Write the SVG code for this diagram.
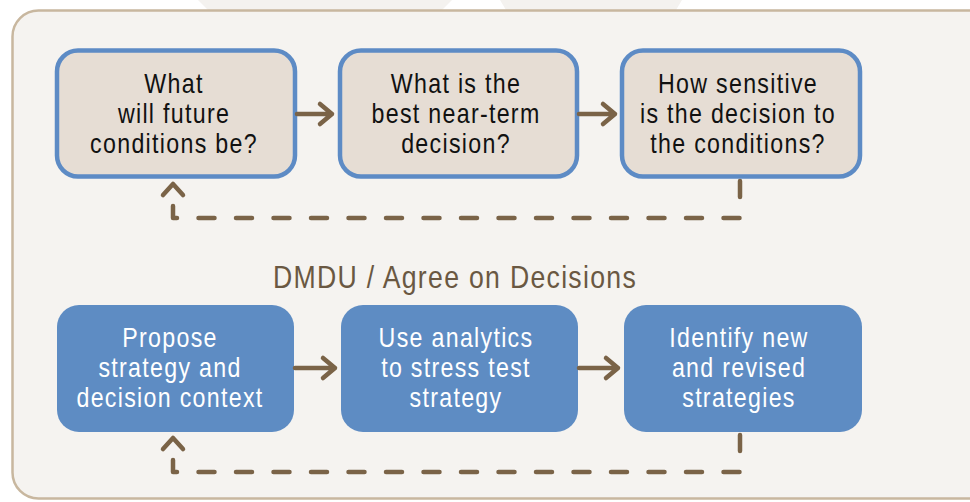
<svg xmlns="http://www.w3.org/2000/svg" width="970" height="502" viewBox="0 0 970 502">
<style>
.q{fill:#e6ddd4;stroke:#5d8bc5;stroke-width:4.5}
.s{fill:#5e8cc3}
.t{font-family:"Liberation Sans",Arial,sans-serif;font-size:27px;text-anchor:middle;letter-spacing:1.5px}
.tq{fill:#111111}
.ts{fill:#ffffff}
.c{fill:none;stroke:#7a6347;stroke-width:4.5;stroke-linecap:round;stroke-linejoin:round}
.d{stroke-dasharray:16 21.5}
</style>
<rect x="0" y="0" width="970" height="502" fill="#ffffff"/>
<polygon points="198,0 452,0 442,10 208,10" fill="#f4f2ef"/>
<polygon points="500,0 682,0 676,10 506,10" fill="#f4f2ef"/>
<rect x="12.5" y="10.5" width="1000" height="488" rx="26" fill="#f5f3f0" stroke="#c8b79f" stroke-width="2.5"/>
<g id="q1"><rect class="q" x="57" y="50.5" width="238" height="126" rx="21"/>
<text class="t tq" transform="translate(174 0) scale(0.86 1)"><tspan x="0" y="93">What</tspan><tspan x="0" y="123">will future</tspan><tspan x="0" y="153">conditions be?</tspan></text></g>
<g id="q2"><rect class="q" x="340" y="50.5" width="237" height="126" rx="21"/>
<text class="t tq" transform="translate(456 0) scale(0.86 1)"><tspan x="0" y="93">What is the</tspan><tspan x="0" y="123">best near-term</tspan><tspan x="0" y="153">decision?</tspan></text></g>
<g id="q3"><rect class="q" x="622" y="50.5" width="238" height="126" rx="21"/>
<text class="t tq" transform="translate(738 0) scale(0.86 1)"><tspan x="0" y="93">How sensitive</tspan><tspan x="0" y="123">is the decision to</tspan><tspan x="0" y="153">the conditions?</tspan></text></g>
<text id="title" transform="translate(455 0) scale(0.86 1)" x="0" y="288" font-family="'Liberation Sans',Arial,sans-serif" font-size="31" fill="#6a5842" text-anchor="middle" letter-spacing="1.5">DMDU / Agree on Decisions</text>
<g id="s1"><rect class="s" x="57" y="305" width="237" height="127" rx="22"/>
<text class="t ts" transform="translate(170 0) scale(0.86 1)"><tspan x="0" y="347">Propose</tspan><tspan x="0" y="377">strategy and</tspan><tspan x="0" y="407">decision context</tspan></text></g>
<g id="s2"><rect class="s" x="341" y="305" width="237" height="127" rx="22"/>
<text class="t ts" transform="translate(456 0) scale(0.86 1)"><tspan x="0" y="347">Use analytics</tspan><tspan x="0" y="377">to stress test</tspan><tspan x="0" y="407">strategy</tspan></text></g>
<g id="s3"><rect class="s" x="624" y="305" width="238" height="127" rx="22"/>
<text class="t ts" transform="translate(739 0) scale(0.86 1)"><tspan x="0" y="347">Identify new</tspan><tspan x="0" y="377">and revised</tspan><tspan x="0" y="407">strategies</tspan></text></g>
<g id="connectors">
<path class="c" d="M297,114 H332 M320,104 L332,114 L320,124"/>
<path class="c" d="M579,114 H615 M603,104 L615,114 L603,124"/>
<path class="c d" d="M740,181 V218 H173 V204"/>
<path class="c" d="M163,195 L173,184 L183,195"/>
<path class="c" d="M295,368 H335 M323,358 L335,368 L323,378"/>
<path class="c" d="M579,368 H618 M606,358 L618,368 L606,378"/>
<path class="c d" d="M740,435 V472 H173 V458"/>
<path class="c" d="M163,449 L173,438 L183,449"/>
</g>
</svg>
